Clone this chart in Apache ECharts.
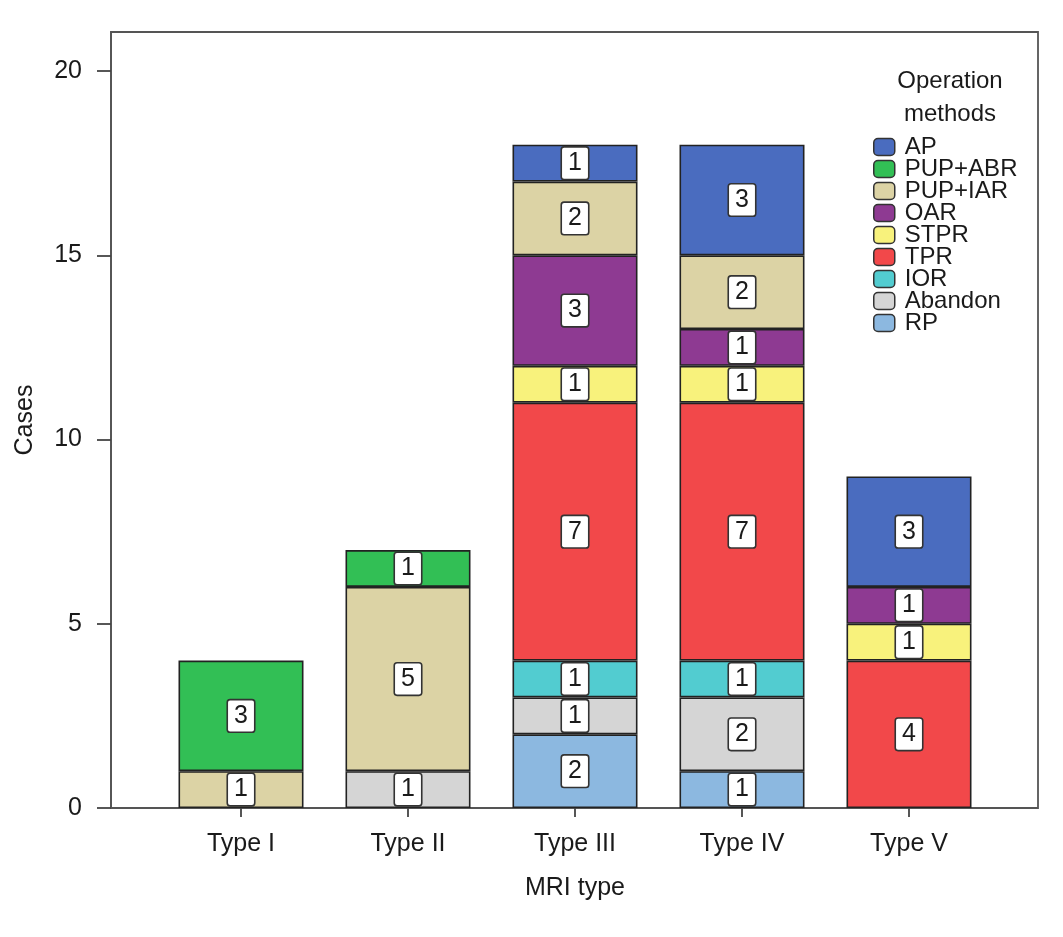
<!DOCTYPE html>
<html><head><meta charset="utf-8">
<script src="https://cdn.jsdelivr.net/npm/echarts@6/dist/echarts.min.js"></script>
<style>html,body{margin:0;padding:0;background:#fff}#c{width:1063px;height:937px}</style>
</head><body><div id="c"></div>
<script>
var categories = ['Type I', 'Type II', 'Type III', 'Type IV', 'Type V'];
var legendOrder = ['AP', 'PUP+ABR', 'PUP+IAR', 'OAR', 'STPR', 'TPR', 'IOR', 'Abandon', 'RP'];
// stacking order bottom -> top
var RP      = [null, null, 2, 1, null];
var Abandon = [null, 1, 1, 2, null];
var IOR     = [null, null, 1, 1, null];
var TPR     = [null, null, 7, 7, 4];
var STPR    = [null, null, 1, 1, 1];
var OAR     = [null, null, 3, 1, 1];
var PUP_IAR = [1, 5, 2, 2, null];
var PUP_ABR = [3, 1, null, null, null];
var AP      = [null, null, 1, 3, 3];
var yTicks = [0, 5, 10, 15, 20];

var stackSeries = [
  ['RP', RP, '#8cb8e0'],
  ['Abandon', Abandon, '#d5d5d5'],
  ['IOR', IOR, '#52ccd0'],
  ['TPR', TPR, '#f2484a'],
  ['STPR', STPR, '#f8f27c'],
  ['OAR', OAR, '#8e3a92'],
  ['PUP+IAR', PUP_IAR, '#dcd3a5'],
  ['PUP+ABR', PUP_ABR, '#32bf55'],
  ['AP', AP, '#4a6cbf']
];

var chart = echarts.init(document.getElementById('c'));
var txt = '#1a1a1a';
var ff = 'Liberation Sans';
chart.setOption({
  animation: false,
  backgroundColor: '#fff',
  title: {
    text: 'Operation\nmethods', left: 945, top: 60, textAlign: 'center',
    textStyle: {fontSize: 24, fontWeight: 'normal', color: txt, lineHeight: 33, fontFamily: ff}
  },
  legend: {
    orient: 'vertical', left: 873, top: 135, padding: 0,
    data: legendOrder,
    itemWidth: 21, itemHeight: 17, itemGap: -2, icon: 'roundRect',
    itemStyle: {borderColor: '#333', borderWidth: 1.5},
    textStyle: {fontSize: 24, color: txt, padding: [0, 0, 0, 5], fontFamily: ff}
  },
  grid: [
    {left: 111, right: 25, top: 32, bottom: 129, show: true, borderColor: '#555', borderWidth: 1.8, containLabel: false},
    {left: 157.5, width: 835, top: 32, bottom: 129, containLabel: false}
  ],
  xAxis: [
    {type: 'value', gridIndex: 0, show: false, min: 0, max: 1},
    {type: 'category', gridIndex: 1, data: categories,
     axisLine: {show: false},
     axisTick: {show: true, alignWithLabel: true, length: 9, lineStyle: {color: '#444', width: 1.8}},
     axisLabel: {fontSize: 25, color: txt, margin: 24, fontFamily: ff},
     name: 'MRI type', nameLocation: 'middle', nameGap: 68,
     nameTextStyle: {fontSize: 25, color: txt, fontFamily: ff}}
  ],
  yAxis: [
    {type: 'value', gridIndex: 0, min: 0, max: 21.06, interval: 5,
     axisLine: {show: true, lineStyle: {color: '#555', width: 1.8}},
     axisTick: {show: true, length: 14, customValues: yTicks, lineStyle: {color: '#444', width: 1.8}},
     axisLabel: {fontSize: 25, color: txt, margin: 29, fontFamily: ff, customValues: yTicks},
     splitLine: {show: false},
     name: 'Cases', nameLocation: 'middle', nameGap: 73,
     nameTextStyle: {fontSize: 25, color: txt, fontFamily: ff}},
    {type: 'value', gridIndex: 1, min: 0, max: 21.06, interval: 5, show: false, splitLine: {show: false}}
  ],
  series: stackSeries.map(function (s) {
    return {
      name: s[0], type: 'bar', stack: 'total', xAxisIndex: 1, yAxisIndex: 1,
      data: s[1], barWidth: 125,
      itemStyle: {color: s[2], borderColor: '#222', borderWidth: 1.6},
      label: {
        show: true, position: 'inside', color: txt, fontSize: 25, fontFamily: ff,
        backgroundColor: '#fff', borderColor: '#333', borderWidth: 1.6, borderRadius: 2,
        padding: [4, 6, 2, 6], lineHeight: 25,
        formatter: function (p) { return p.value == null ? '' : String(p.value); }
      }
    };
  })
});
</script>
</body></html>
